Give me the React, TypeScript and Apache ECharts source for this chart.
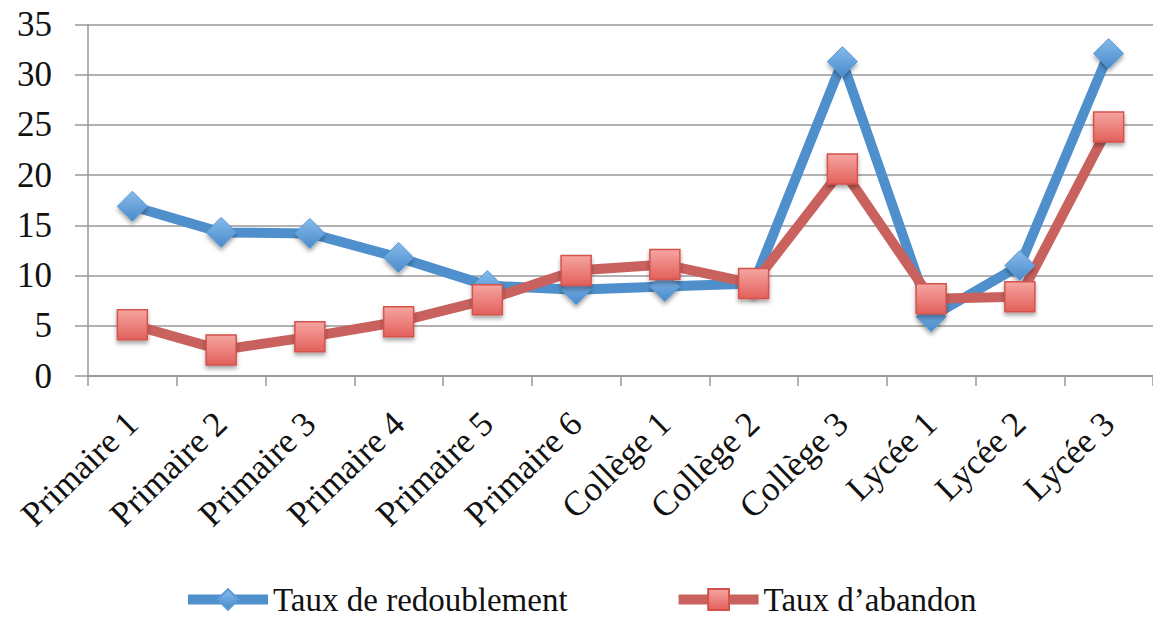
import React, { useEffect, useRef } from "react";
import * as echarts from "echarts";

const categories = [
  "Primaire 1", "Primaire 2", "Primaire 3", "Primaire 4", "Primaire 5", "Primaire 6",
  "Collège 1", "Collège 2", "Collège 3", "Lycée 1", "Lycée 2", "Lycée 3",
];
const redoublement = [16.9, 14.3, 14.2, 11.8, 9.0, 8.6, 8.9, 9.2, 31.3, 5.9, 11.0, 32.1];
const abandon = [5.1, 2.6, 3.9, 5.4, 7.6, 10.5, 11.1, 9.2, 20.6, 7.7, 7.9, 24.8];
const yTicks = { min: 0, max: 35, interval: 5 };

const FONT = "'Liberation Serif', 'Times New Roman', serif";

export default function App() {
  const ref = useRef<HTMLDivElement>(null);
  useEffect(() => {
    if (!ref.current) return;
    const chart = echarts.init(ref.current, null, { renderer: "svg" });
    const blueMarker = new echarts.graphic.LinearGradient(0, 0, 0, 1, [
      { offset: 0, color: "#86BBEB" },
      { offset: 1, color: "#4A8ACB" },
    ]);
    const redMarker = new echarts.graphic.LinearGradient(0, 0, 0, 1, [
      { offset: 0, color: "#F6A5A1" },
      { offset: 1, color: "#E2605B" },
    ]);
    chart.setOption({
      animation: false,
      backgroundColor: "#ffffff",
      grid: { left: 88, right: -2, top: 24.5, bottom: 242, containLabel: false },
      legend: {
        left: 183,
        top: 583,
        padding: 0,
        itemWidth: 80,
        itemHeight: 26,
        itemGap: 106,
        lineStyle: { width: 10 },
        textStyle: { fontFamily: FONT, fontSize: 33, color: "#111", lineHeight: 30 },
        data: ["Taux de redoublement", "Taux d’abandon"],
      },
      xAxis: {
        type: "category",
        data: categories,
        boundaryGap: true,
        axisLine: { lineStyle: { color: "#999", width: 2 } },
        axisTick: { show: true, length: 10, lineStyle: { color: "#999", width: 1.5 } },
        axisLabel: {
          rotate: 44,
          margin: 42,
          interval: 0,
          fontFamily: FONT,
          fontSize: 35,
          color: "#111",
        },
      },
      yAxis: {
        type: "value",
        min: yTicks.min,
        max: yTicks.max,
        interval: yTicks.interval,
        axisLine: { show: true, lineStyle: { color: "#999", width: 1.5 } },
        axisTick: { show: true, length: 13, lineStyle: { color: "#999", width: 1.5 } },
        splitLine: { lineStyle: { color: "#999", width: 1.5 } },
        axisLabel: {
          margin: 36,
          fontFamily: FONT,
          fontSize: 35,
          color: "#111",
        },
      },
      series: [
        {
          name: "Taux de redoublement",
          type: "line",
          data: redoublement,
          symbol: "diamond",
          symbolSize: 30,
          lineStyle: { color: "#4F90CC", width: 10 },
          itemStyle: {
            color: blueMarker,
            borderColor: "#5A9AD6",
            borderWidth: 1,
            shadowBlur: 4,
            shadowOffsetY: 3,
            shadowColor: "rgba(0,0,0,0.35)",
          },
        },
        {
          name: "Taux d’abandon",
          type: "line",
          data: abandon,
          symbol: "rect",
          symbolSize: 30,
          lineStyle: { color: "#C9625E", width: 10 },
          itemStyle: {
            color: redMarker,
            borderColor: "#D4524D",
            borderWidth: 1.5,
            shadowBlur: 4,
            shadowOffsetY: 3,
            shadowColor: "rgba(0,0,0,0.35)",
          },
        },
      ],
    });
    return () => chart.dispose();
  }, []);
  return <div ref={ref} style={{ width: 1153, height: 618, position: "absolute", left: 0, top: 0 }} />;
}
